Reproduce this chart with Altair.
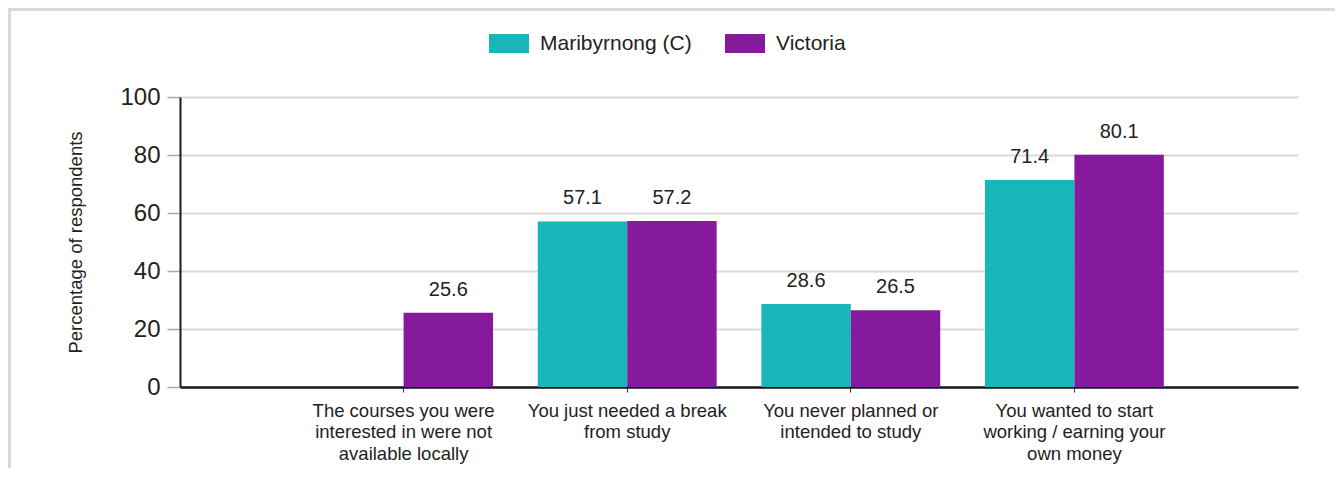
import altair as alt
import pandas as pd

categories = [
    "The courses you were\ninterested in were not\navailable locally",
    "You just needed a break\nfrom study",
    "You never planned or\nintended to study",
    "You wanted to start\nworking / earning your\nown money",
]
series_names = ["Maribyrnong (C)", "Victoria"]
maribyrnong = [None, 57.1, 28.6, 71.4]
victoria = [25.6, 57.2, 26.5, 80.1]
colors = ["#19b6b9", "#861a9c"]
y_ticks = [0, 20, 40, 60, 80, 100]

rows = []
for i, c in enumerate(categories):
    rows.append({"category": c, "series": series_names[0], "value": maribyrnong[i]})
    rows.append({"category": c, "series": series_names[1], "value": victoria[i]})
df = pd.DataFrame(rows)

FONT = "Liberation Sans"
TXT = "#222222"

x_enc = alt.X(
    "category:N",
    sort=categories,
    scale=alt.Scale(paddingInner=0.2, paddingOuter=0.6),
    axis=alt.Axis(
        title=None,
        labelAngle=0,
        labelExpr="split(datum.label, '\\n')",
        labelFont=FONT,
        labelFontSize=18.5,
        labelLineHeight=21.5,
        labelColor=TXT,
        labelPadding=9,
        labelBaseline="top",
        labelLimit=0,
        tickSize=5,
        tickColor="#333333",
        tickWidth=1,
        domainColor="#1a1a1a",
        domainWidth=2.5,
        grid=False,
    ),
)
xoff = alt.XOffset("series:N", sort=series_names, scale=alt.Scale(paddingInner=0, paddingOuter=0))
y_enc = alt.Y(
    "value:Q",
    scale=alt.Scale(domain=[0, 100], nice=False),
    axis=alt.Axis(
        values=y_ticks,
        title="Percentage of respondents",
        titleFont=FONT,
        titleFontSize=18.5,
        titleFontWeight="normal",
        titleColor=TXT,
        titleX=-105,
        titleY=145,
        titleAngle=-90,
        titleAlign="center",
        titleBaseline="middle",
        labelFont=FONT,
        labelFontSize=24,
        labelColor=TXT,
        labelPadding=7,
        tickSize=13,
        tickColor="#aaaaaa",
        tickWidth=1.5,
        domainColor="#1a1a1a",
        domainWidth=2,
        gridColor="#dadada",
        gridWidth=2,
    ),
)

color_enc = alt.Color(
    "series:N",
    sort=series_names,
    scale=alt.Scale(domain=series_names, range=colors),
    legend=alt.Legend(
        title=None,
        orient="none",
        direction="horizontal",
        legendX=309,
        legendY=-73.5,
        symbolType="M-1,-0.47L1,-0.47L1,0.47L-1,0.47Z",
        symbolSize=1600,
        symbolStrokeWidth=0,
        symbolOpacity=1,
        labelFont=FONT,
        labelFontSize=21,
        labelColor=TXT,
        labelOffset=11,
        columnPadding=33,
        padding=0,
    ),
)

bars = alt.Chart(df).mark_bar().encode(
    x=x_enc, xOffset=xoff, y=y_enc, color=color_enc
)

labels = alt.Chart(df).mark_text(
    font=FONT, fontSize=20, color=TXT, baseline="alphabetic", dy=-17
).encode(
    x=alt.X("category:N", sort=categories),
    xOffset=alt.XOffset("series:N", sort=series_names),
    y=alt.Y("value:Q"),
    text=alt.Text("value:Q", format=".1f"),
)

frame_df = pd.DataFrame({"f": [0]})
frame = alt.Chart(frame_df).mark_rect(
    fill="white", fillOpacity=0, stroke="#d9d9d9", strokeWidth=3
).encode(
    x=alt.value(-170.5),
    x2=alt.value(1170),
    y=alt.value(-87.5),
    y2=alt.value(400),
)

chart = (
    alt.layer(frame, bars, labels)
    .properties(
        width=1118,
        height=290,
        padding={"left": 172, "top": 89, "right": 37, "bottom": 81},
        autosize=alt.AutoSizeParams(type="none"),
        background="white",
    )
    .configure_view(stroke=None)
)

chart.save("out.html", embed_options={"renderer": "svg", "actions": False})
